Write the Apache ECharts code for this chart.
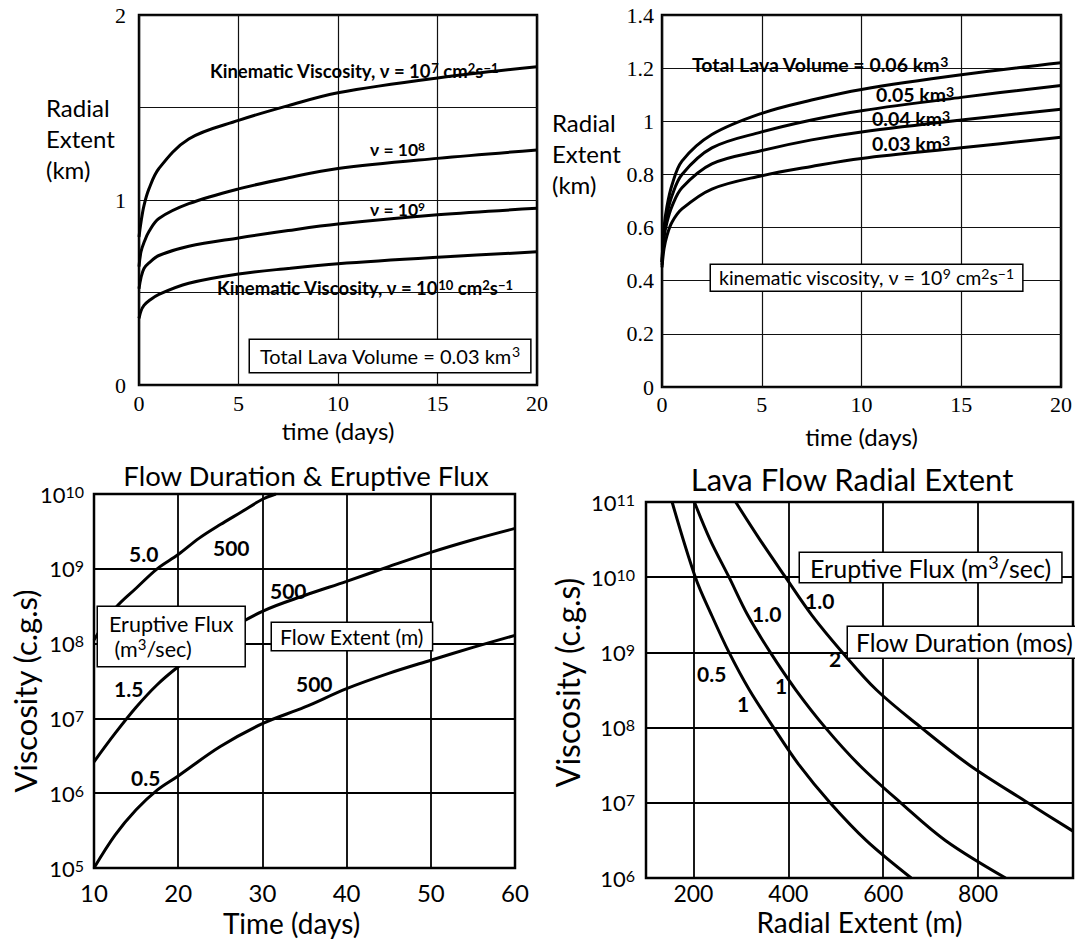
<!DOCTYPE html>
<html>
<head>
<meta charset="utf-8">
<title>Lava flow radial extent</title>
<script src="https://cdn.jsdelivr.net/npm/echarts@6/dist/echarts.min.js"></script>
<style>
  html, body { margin: 0; padding: 0; background: #fff; }
  #chart { width: 1075px; height: 940px; }
</style>
</head>
<body>
<div id="chart"></div>
<script>
// top left: radial extent (km) vs time (days), total lava volume 0.03 km3
const daysTop = [0, 0.1, 0.25, 0.5, 1, 2.5, 5, 7.5, 10, 15, 20];
const extentNu7 = [0.80, 0.88, 0.97, 1.06, 1.17, 1.33, 1.43, 1.51, 1.58, 1.66, 1.72];
const extentNu8 = [0.64, 0.72, 0.77, 0.83, 0.90, 0.98, 1.06, 1.12, 1.17, 1.225, 1.27];
const extentNu9 = [0.52, 0.58, 0.63, 0.66, 0.70, 0.75, 0.795, 0.835, 0.87, 0.92, 0.955];
const extentNu10 = [0.36, 0.40, 0.43, 0.455, 0.49, 0.55, 0.60, 0.63, 0.655, 0.69, 0.72];

// top right: radial extent (km) vs time, viscosity 1e9 cm2/s
const extentVol06 = [0.47, 0.60, 0.68, 0.76, 0.85, 0.95, 1.03, 1.08, 1.12, 1.175, 1.22];
const extentVol05 = [0.47, 0.58, 0.65, 0.72, 0.80, 0.90, 0.96, 1.005, 1.04, 1.09, 1.135];
const extentVol04 = [0.46, 0.56, 0.62, 0.68, 0.75, 0.84, 0.89, 0.93, 0.96, 1.005, 1.045];
const extentVol03 = [0.45, 0.52, 0.57, 0.62, 0.67, 0.745, 0.795, 0.83, 0.86, 0.90, 0.94];

// bottom left: viscosity vs flow duration, flow extent 500 m
const daysFlux5 = [10, 12.5, 15, 17.5, 20, 22.5, 25, 27.5, 30, 31.6];
const viscFlux5 = [1.12e8, 2.95e8, 5.5e8, 1.0e9, 1.55e9, 2.57e9, 3.9e9, 5.75e9, 8.5e9, 1.0e10];
const daysLong = [10, 12.5, 15, 17.5, 20, 25, 30, 35, 40, 45, 50, 55, 60];
const viscFlux15 = [2.63e6, 6.3e6, 1.41e7, 2.82e7, 4.9e7, 1.29e8, 2.7e8, 4.4e8, 6.8e8, 1.07e9, 1.66e9, 2.45e9, 3.47e9];
const viscFlux05 = [1.0e5, 2.75e5, 6.0e5, 1.1e6, 1.7e6, 4.2e6, 8.5e6, 1.41e7, 2.5e7, 4.0e7, 6.0e7, 8.9e7, 1.29e8];

// bottom right: viscosity vs radial extent (m)
const extentA = [155, 204, 238, 275, 318, 369, 423, 488, 564, 659];
const viscA = [1e11, 1e10, 3.16e9, 1e9, 3.16e8, 1e8, 3.16e7, 1e7, 3.16e6, 1e6];
const extentB = [202, 235, 275, 314, 362, 416, 478, 550, 637, 731, 858];
const viscB = [1e11, 3.16e10, 1e10, 3.16e9, 1e9, 3.16e8, 1e8, 3.16e7, 1e7, 3.16e6, 1e6];
const extentC = [289, 340, 394, 449, 514, 586, 680, 782, 905, 1000];
const viscC = [1e11, 3.16e10, 1e10, 3.16e9, 1e9, 3.16e8, 1e8, 3.16e7, 1e7, 4.2e6];
const extentTicks = [200, 400, 600, 800];
const extentGrid = [200, 400, 600, 800, 1000];

const serif = 'Liberation Serif';
const sans = 'Lato';
const zip = (xs, ys) => xs.map((x, i) => [x, ys[i]]);

function curve(gi, xs, ys) {
  return {
    type: 'line', xAxisIndex: gi, yAxisIndex: gi,
    data: zip(xs, ys),
    showSymbol: false, silent: true,
    smooth: 0.35,
    lineStyle: {color: '#000', width: 3}
  };
}

const gridLine = {lineStyle: {color: '#111', width: 1.2}};
const sup = (size, weight) => ({fontSize: size, fontFamily: sans, fontWeight: weight || 'normal', verticalAlign: 'top', fill: '#000'});

// free text; boxed ones get white fill and a black frame
function note(x, y, text, size, opt) {
  let style = {
    text: text, x: 0, y: 0, fill: '#000',
    fontFamily: sans, fontSize: size, fontWeight: 'bold',
    align: 'left', verticalAlign: 'middle',
    rich: {s: sup(Math.round(size * 0.7), 'bold')}
  };
  Object.assign(style, opt || {});
  return {type: 'text', x: x, y: y, z: 100, silent: true, style: style};
}
function box(x, y, text, size, padding, opt) {
  return note(x, y, text, size, Object.assign({
    fontWeight: 'normal', verticalAlign: 'top',
    backgroundColor: '#fff', borderColor: '#000', borderWidth: 1.5,
    padding: padding, lineHeight: size + 4,
    rich: {s: sup(Math.round(size * 0.7))}
  }, opt || {}));
}

const logLabel = v => '10{s|' + Math.round(Math.log10(v)) + '}';

let chart = echarts.init(document.getElementById('chart'), null, {renderer: 'svg'});

let option = {
  backgroundColor: '#fff',
  animation: false,
  grid: [
    {left: 139, top: 15, width: 398, height: 370},
    {left: 662, top: 15, width: 402, height: 372},
    {left: 94, top: 494, width: 421, height: 374},
    {left: 646, top: 502, width: 427, height: 376}
  ].map(g => Object.assign({show: true, borderColor: '#000', borderWidth: 2.5, containLabel: false}, g)),
  xAxis: [
    {
      gridIndex: 0, type: 'value', min: 0, max: 20, interval: 5,
      axisLine: {show: false}, axisTick: {show: false}, splitLine: gridLine,
      axisLabel: {fontFamily: serif, fontSize: 22, color: '#000', margin: 7},
      name: 'time (days)', nameLocation: 'middle', nameGap: 33, nameMoveOverlap: false,
      nameTextStyle: {fontFamily: sans, fontSize: 24, color: '#000'}
    },
    {
      gridIndex: 1, type: 'value', min: 0, max: 20, interval: 5,
      axisLine: {show: false}, axisTick: {show: false}, splitLine: gridLine,
      axisLabel: {fontFamily: serif, fontSize: 22, color: '#000', margin: 6},
      name: 'time (days)', nameLocation: 'middle', nameGap: 37, nameMoveOverlap: false,
      nameTextStyle: {fontFamily: sans, fontSize: 24, color: '#000'}
    },
    {
      gridIndex: 2, type: 'value', min: 10, max: 60, interval: 10,
      axisLine: {show: false}, axisTick: {show: false}, splitLine: {lineStyle: {color: '#000', width: 1.8}},
      axisLabel: {fontFamily: sans, fontSize: 24, color: '#000', margin: 12},
      name: 'Time (days)', nameLocation: 'middle', nameGap: 41, nameMoveOverlap: false,
      nameTextStyle: {fontFamily: sans, fontSize: 28, lineHeight: 28, color: '#000', padding: [0, 26, 0, 0]}
    },
    {
      gridIndex: 3, type: 'value', min: 100, max: 1000,
      axisLine: {show: false},
      axisTick: {show: false, customValues: extentGrid},
      splitLine: {lineStyle: {color: '#000', width: 1.8}},
      axisLabel: {fontFamily: sans, fontSize: 23, lineHeight: 22, color: '#000', margin: 4, customValues: extentTicks},
      name: 'Radial Extent (m)', nameLocation: 'middle', nameGap: 30, nameMoveOverlap: false,
      nameTextStyle: {fontFamily: sans, fontSize: 28, lineHeight: 27, color: '#000'}
    }
  ],
  yAxis: [
    {
      gridIndex: 0, type: 'value', min: 0, max: 2, interval: 0.5,
      axisLine: {show: false}, axisTick: {show: false}, splitLine: gridLine,
      axisLabel: {fontFamily: serif, fontSize: 22, color: '#000', margin: 13,
        formatter: v => (v % 1 === 0 ? String(v) : '')}
    },
    {
      gridIndex: 1, type: 'value', min: 0, max: 1.4, interval: 0.2,
      axisLine: {show: false}, axisTick: {show: false}, splitLine: gridLine,
      axisLabel: {fontFamily: serif, fontSize: 22, color: '#000', margin: 8,
        formatter: v => String(+v.toFixed(1))}
    },
    {
      gridIndex: 2, type: 'log', logBase: 10, min: 1e5, max: 1e10,
      axisLine: {show: false}, axisTick: {show: false}, splitLine: {lineStyle: {color: '#000', width: 1.8}},
      axisLabel: {fontFamily: sans, fontSize: 22, color: '#000', margin: 10, formatter: logLabel,
        rich: {s: sup(16)}},
      name: 'Viscosity (c.g.s)', nameLocation: 'middle', nameRotate: 90, nameGap: 54, nameMoveOverlap: false,
      nameTextStyle: {fontFamily: sans, fontSize: 31, color: '#000', padding: [0, 20, 0, 0]}
    },
    {
      gridIndex: 3, type: 'log', logBase: 10, min: 1e6, max: 1e11,
      axisLine: {show: false}, axisTick: {show: false}, splitLine: {lineStyle: {color: '#000', width: 1.8}},
      axisLabel: {fontFamily: sans, fontSize: 22, color: '#000', margin: 11, formatter: logLabel,
        rich: {s: sup(16)}},
      name: 'Viscosity (c.g.s)', nameLocation: 'middle', nameRotate: 90, nameGap: 63, nameMoveOverlap: false,
      nameTextStyle: {fontFamily: sans, fontSize: 32, color: '#000', padding: [0, 0, 0, 15]}
    }
  ],
  series: [
    curve(0, daysTop, extentNu7),
    curve(0, daysTop, extentNu8),
    curve(0, daysTop, extentNu9),
    curve(0, daysTop, extentNu10),
    curve(1, daysTop, extentVol06),
    curve(1, daysTop, extentVol05),
    curve(1, daysTop, extentVol04),
    curve(1, daysTop, extentVol03),
    curve(2, daysFlux5, viscFlux5),
    curve(2, daysLong, viscFlux15),
    curve(2, daysLong, viscFlux05),
    curve(3, extentA, viscA),
    curve(3, extentB, viscB),
    curve(3, extentC, viscC)
  ],
  graphic: [
    // axis titles of the top panels
    note(46, 92, 'Radial\nExtent\n(km)', 24, {fontWeight: 'normal', verticalAlign: 'top', lineHeight: 31}),
    note(552, 107, 'Radial\nExtent\n(km)', 24, {fontWeight: 'normal', verticalAlign: 'top', lineHeight: 31}),
    // top left labels
    note(210, 71, 'Kinematic Viscosity, ν = 10{s|7} cm{s|2}s{s|−1}', 18.5),
    note(370, 149, 'ν = 10{s|8}', 17.5),
    note(370, 209, 'ν = 10{s|9}', 17.5),
    note(217, 288, 'Kinematic Viscosity, ν = 10{s|10} cm{s|2}s{s|−1}', 18.5),
    box(250, 340, 'Total Lava Volume = 0.03 km{s|3}', 20, [4, 10]),
    // top right labels
    note(692, 64, 'Total Lava Volume = 0.06 km{s|3}', 19.5),
    note(876, 94, '0.05 km{s|3}', 19.5),
    note(872, 118, '0.04 km{s|3}', 19.5),
    note(872, 143, '0.03 km{s|3}', 19.5),
    box(711, 265, 'kinematic viscosity, ν = 10{s|9} cm{s|2}s{s|−1}', 19.5, [1, 8]),
    // bottom titles
    note(306, 475, 'Flow Duration & Eruptive Flux', 27.5, {fontWeight: 'normal', align: 'center'}),
    note(852, 479, 'Lava Flow Radial Extent', 31, {fontWeight: 'normal', align: 'center'}),
    // bottom left labels
    note(129, 553, '5.0', 21),
    note(213, 547, '500', 21),
    note(270, 590, '500', 21),
    note(114, 688, '1.5', 21),
    note(296, 683, '500', 21),
    note(131, 777, '0.5', 21),
    box(98, 607, 'Eruptive Flux\n (m{s|3}/sec)', 21.5, [4, 11]),
    box(272, 623, 'Flow Extent (m)', 21, [1, 8]),
    // bottom right labels
    box(800, 553, 'Eruptive Flux (m{s|3}/sec)', 25, [0, 10]),
    box(848, 627, 'Flow Duration (mos)', 24.5, [1, 8]),
    note(805, 600, '1.0', 21),
    note(752, 613, '1.0', 21),
    note(829, 658, '2', 21),
    note(697, 673, '0.5', 21),
    note(775, 685, '1', 21),
    note(737, 703, '1', 21)
  ]
};

chart.setOption(option);
</script>
</body>
</html>
